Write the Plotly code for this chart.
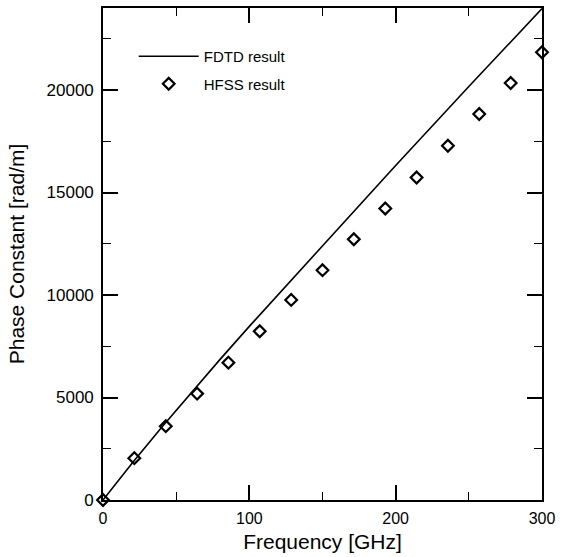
import plotly.graph_objects as go

# phase constant vs frequency, FDTD curve against HFSS points

fdtd_freq = [0, 20, 40, 60, 80, 100, 150, 200, 250, 300]
fdtd_beta = [0, 1800, 3540, 5220, 6860, 8470, 12420, 16320, 20170, 23970]

hfss_freq = [0, 21.4, 42.9, 64.3, 85.7, 107.1, 128.6, 150, 171.4, 192.9, 214.3, 235.7, 257.1, 278.6, 300]
hfss_beta = [0, 2040, 3600, 5190, 6700, 8230, 9760, 11210, 12720, 14220, 15730, 17280, 18830, 20340, 21840]

x_ticks = [0, 100, 200, 300]
y_ticks = [0, 5000, 10000, 15000, 20000]

font_name = "Liberation Sans, Arial, sans-serif"

fig = go.Figure()
fig.add_trace(go.Scatter(x=fdtd_freq, y=fdtd_beta, mode="lines", name="FDTD result",
                         legendgroup="fdtd",
                         line=dict(color="black", width=1.6), cliponaxis=False))
fig.add_trace(go.Scatter(x=hfss_freq, y=hfss_beta, mode="markers", name="HFSS result",
                         legendgroup="hfss",
                         marker=dict(symbol="diamond-open", size=9, color="black",
                                     line=dict(color="black", width=2.2)),
                         cliponaxis=False))

axis_common = dict(
    showline=True, linecolor="black", linewidth=1.6, mirror="ticks",
    ticks="inside", tickcolor="black", tickwidth=1.6, ticklen=15,
    showgrid=False, zeroline=False, tickformat="d",
)

fig.update_xaxes(range=[0, 300], tickvals=x_ticks, ticklabelstandoff=3,
                 tickfont=dict(family=font_name, size=16, color="black"),
                 minor=dict(ticks="inside", dtick=50, ticklen=8, tickcolor="black", tickwidth=1.4, showgrid=False),
                 title=dict(text="Frequency [GHz]", standoff=8,
                            font=dict(family=font_name, size=21, color="black")),
                 **axis_common)
fig.update_yaxes(range=[0, 24000], tickvals=y_ticks, ticklabelstandoff=4,
                 tickfont=dict(family=font_name, size=17, color="black"),
                 minor=dict(ticks="inside", dtick=2500, ticklen=8, tickcolor="black", tickwidth=1.4, showgrid=False),
                 title=dict(text="Phase Constant [rad/m]", standoff=16,
                            font=dict(family=font_name, size=21, color="black")),
                 **axis_common)

fig.update_layout(
    width=561, height=557,
    margin=dict(l=103, r=15, t=6, b=57),
    plot_bgcolor="white", paper_bgcolor="white",
    legend=dict(x=0.07, y=0.935, xanchor="left", yanchor="top",
                bgcolor="rgba(0,0,0,0)", itemwidth=60,
                traceorder="grouped", tracegroupgap=5,
                font=dict(family=font_name, size=15, color="black")),
    showlegend=True,
)

# drop the default body margin so the figure fills the window exactly
fig.write_html("out.html", config={"displayModeBar": False},
               post_script="document.body.style.margin='0px';")
